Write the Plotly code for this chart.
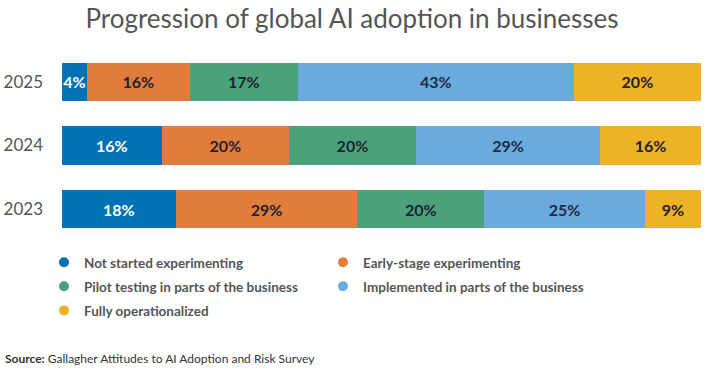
import plotly.graph_objects as go

years = ["2023", "2024", "2025"]
series_names = [
    "Not started experimenting",
    "Early-stage experimenting",
    "Pilot testing in parts of the business",
    "Implemented in parts of the business",
    "Fully operationalized",
]
# segment lengths (order: 2023, 2024, 2025)
not_started = [17.8, 15.6, 3.9]
early_stage = [28.4, 19.9, 16.1]
pilot = [19.9, 19.9, 16.9]
implemented = [25.1, 28.8, 43.2]
fully = [8.8, 15.8, 19.9]
# printed labels
not_started_lbl = ["18%", "16%", "4%"]
early_stage_lbl = ["29%", "20%", "16%"]
pilot_lbl = ["20%", "20%", "17%"]
implemented_lbl = ["25%", "29%", "43%"]
fully_lbl = ["9%", "16%", "20%"]

values = [not_started, early_stage, pilot, implemented, fully]
labels = [not_started_lbl, early_stage_lbl, pilot_lbl, implemented_lbl, fully_lbl]
colors = ["#0071B5", "#E07D3C", "#4BA27A", "#6BAADC", "#EDB225"]
text_colors = ["#FFFFFF", "#1E2230", "#1E2230", "#1E2A44", "#1E2230"]
legend_ids = ["legend", "legend2", "legend", "legend2", "legend"]

FONT = "Lato"

fig = go.Figure()
for i in range(5):
    fig.add_trace(go.Bar(
        y=years, x=values[i], orientation="h", name=series_names[i],
        marker=dict(color=colors[i], line=dict(width=0)),
        text=labels[i], textposition="inside", insidetextanchor="middle",
        textangle=0, constraintext="none", cliponaxis=False,
        textfont=dict(family=FONT, size=16, color=text_colors[i], weight="bold"),
        showlegend=False, hoverinfo="skip",
    ))
# legend entries with round markers
for i in range(5):
    fig.add_trace(go.Scatter(
        x=[None], y=[None], mode="markers", name=series_names[i],
        marker=dict(symbol="circle", size=10, color=colors[i]),
        legend=legend_ids[i], legendgroup=f"g{i}", showlegend=True, hoverinfo="skip",
    ))

legend_common = dict(
    orientation="v", xref="container", yref="container", xanchor="left", yanchor="top",
    font=dict(family=FONT, size=13.5, color="#555555", weight="bold"),
    tracegroupgap=3.5, bgcolor="rgba(0,0,0,0)", itemclick=False, itemdoubleclick=False,
)

fig.update_layout(
    width=709, height=372,
    margin=dict(l=62, r=8, t=50, b=131, autoexpand=False),
    paper_bgcolor="white", plot_bgcolor="white",
    barmode="stack", bargap=0.4,
    showlegend=True,
    title=dict(text="Progression of global AI adoption in businesses",
               font=dict(family=FONT, size=26, color="#555555"),
               xref="container", x=352 / 709, xanchor="center",
               yref="container", y=1 - 19 / 372, yanchor="middle"),
    xaxis=dict(range=[0, 100], visible=False, fixedrange=True),
    yaxis=dict(categoryorder="array", categoryarray=years, showgrid=False,
               zeroline=False, showline=False, ticks="", ticklabelstandoff=18,
               tickfont=dict(family=FONT, size=17, color="#555555"), fixedrange=True),
    legend=dict(legend_common, x=44 / 709, y=1 - 247 / 372),
    legend2=dict(legend_common, x=323 / 709, y=1 - 247 / 372),
    annotations=[dict(
        text="<b>Source:</b> Gallagher Attitudes to AI Adoption and Risk Survey",
        xref="paper", yref="paper", x=(3 - 62) / 639, y=(241 - 358) / 191,
        xanchor="left", yanchor="middle", showarrow=False,
        font=dict(family=FONT, size=12, color="#333333"),
    )],
)

fig.write_html("out.html",
               config={"displayModeBar": False},
               post_script="document.body.style.margin='0';document.body.style.padding='0';")
